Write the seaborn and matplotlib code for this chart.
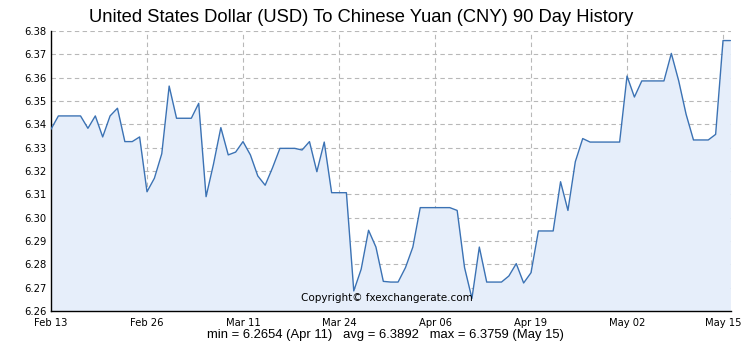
import matplotlib
matplotlib.use("Agg")
import matplotlib.pyplot as plt
import seaborn as sns
import pandas as pd

start_date = "2018-02-13"
rates = [
    6.3379, 6.3436, 6.3436, 6.3436, 6.3436, 6.3383, 6.3436, 6.3346, 6.3436, 6.3469,
    6.3326, 6.3326, 6.3346, 6.3111, 6.3169, 6.3274, 6.3564, 6.3426, 6.3426, 6.3426,
    6.3490, 6.3090, 6.3229, 6.3386, 6.3269, 6.3281, 6.3326, 6.3269, 6.3179, 6.3139,
    6.3214, 6.3297, 6.3297, 6.3297, 6.3290, 6.3326, 6.3197, 6.3324, 6.3107, 6.3107,
    6.3107, 6.2686, 6.2779, 6.2946, 6.2874, 6.2727, 6.2724, 6.2724, 6.2786, 6.2874,
    6.3043, 6.3043, 6.3043, 6.3043, 6.3043, 6.3031, 6.2786, 6.2654, 6.2874, 6.2724,
    6.2724, 6.2724, 6.2750, 6.2803, 6.2720, 6.2764, 6.2943, 6.2943, 6.2943, 6.3154,
    6.3031, 6.3240, 6.3339, 6.3324, 6.3324, 6.3324, 6.3324, 6.3324, 6.3607, 6.3517,
    6.3586, 6.3586, 6.3586, 6.3586, 6.3704, 6.3586, 6.3443, 6.3333, 6.3333, 6.3333,
    6.3357, 6.3759, 6.3759,
]
tick_labels = ["Feb 13", "Feb 26", "Mar 11", "Mar 24", "Apr 06", "Apr 19", "May 02", "May 15"]
y_ticks = [6.26, 6.27, 6.28, 6.29, 6.30, 6.31, 6.32, 6.33, 6.34, 6.35, 6.36, 6.37, 6.38]
title = "United States Dollar (USD) To Chinese Yuan (CNY) 90 Day History"
footer = "min = 6.2654 (Apr 11)   avg = 6.3892   max = 6.3759 (May 15)"
copyright_text = "Copyright\u00a9 fxexchangerate.com"

dates = pd.date_range(start_date, periods=len(rates), freq="D")
df = pd.DataFrame({"date": dates, "rate": rates})

sns.set_style("white")
plt.rcParams["font.family"] = ["DejaVu Sans"]

fig = plt.figure(figsize=(7.5, 3.45), dpi=100)
ax = fig.add_axes([51 / 750, 1 - 311 / 345, 680 / 750, 280 / 345])

line_color = "#3b72b4"
fill_color = "#e6eefa"

ax.fill_between(df["date"], df["rate"], 6.26, color=fill_color, lw=0, zorder=1)
sns.lineplot(data=df, x="date", y="rate", ax=ax, color=line_color, lw=1.0, zorder=3)

x0 = dates[0]
ax.set_xlim(x0, x0 + pd.Timedelta(days=92.08))
ax.set_ylim(6.26, 6.38)

cond = ["DejaVu Sans Condensed", "DejaVu Sans"]
tick_dates = [x0 + pd.Timedelta(days=13 * i) for i in range(len(tick_labels))]
ax.set_xticks(tick_dates)
ax.set_xticklabels(tick_labels, fontsize=7.2, family=cond)
ax.set_yticks(y_ticks)
ax.set_yticklabels([f"{v:.2f}" for v in y_ticks], fontsize=7.2, family=cond)

ax.grid(True, color="#b8b8b8", linestyle=(0, (4, 3)), lw=0.8, zorder=0)
for s in ["top", "right"]:
    ax.spines[s].set_visible(False)
for s in ["left", "bottom"]:
    ax.spines[s].set_color("black")
    ax.spines[s].set_linewidth(1.0)
ax.tick_params(axis="both", direction="inout", length=4, width=0.8, color="black",
               labelcolor="black")
ax.tick_params(axis="y", pad=1)
ax.tick_params(axis="x", pad=3)
ax.set_xlabel("")
ax.set_ylabel("")

fig.text(361 / 750, 1 - 17 / 345, title, ha="center", va="center", fontsize=13.2,
         family=["Liberation Sans", "DejaVu Sans"], color="black")
fig.text(385 / 750, 1 - 335 / 345, footer, ha="center", va="center", fontsize=9.4,
         family=["Liberation Sans", "DejaVu Sans"], color="black")
fig.text(387 / 750, 1 - 298 / 345, copyright_text, ha="center", va="center", fontsize=7.5,
         family=cond, color="black", zorder=5)

fig.savefig("out.png", dpi=100)
